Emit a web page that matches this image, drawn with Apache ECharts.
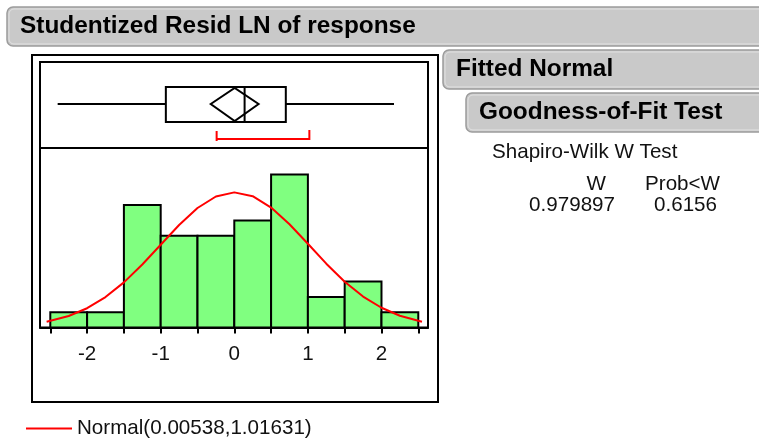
<!DOCTYPE html>
<html>
<head>
<meta charset="utf-8">
<script src="https://cdn.jsdelivr.net/npm/echarts@6/dist/echarts.min.js"></script>
<style>
  html, body { margin: 0; padding: 0; background: #fff; }
  #chart { width: 759px; height: 440px; }
</style>
</head>
<body>
<div id="chart"></div>
<script>
// histogram bins (edges) and counts
const binEdges = [-2.5, -2, -1.5, -1, -0.5, 0, 0.5, 1, 1.5, 2, 2.5];
const binCounts = [1, 1, 8, 6, 6, 7, 10, 2, 3, 1];

// fitted normal curve (in count units)
const curveX = [-2.55, -2.25, -2, -1.75, -1.5, -1.25, -1, -0.75, -0.5, -0.25, 0,
  0.25, 0.5, 0.75, 1, 1.25, 1.5, 1.75, 2, 2.25, 2.55];
const curveY = [0.38, 0.75, 1.26, 1.99, 2.95, 4.12, 5.41, 6.7, 7.81, 8.56, 8.83,
  8.58, 7.84, 6.75, 5.47, 4.17, 2.99, 2.02, 1.29, 0.77, 0.38];

// outlier box plot: min, q1, median, q3, max
const boxStats = [-2.4, -0.93, 0.14, 0.7, 2.17];
// mean diamond: lower CI, mean, upper CI
const meanDiamond = [-0.32, 0.005, 0.33];
// shortest half bracket
const shortestHalf = [-0.24, 1.02];

const xTicks = [-2.5, -2, -1.5, -1, -0.5, 0, 0.5, 1, 1.5, 2, 2.5];
const xLabels = [-2, -1, 0, 1, 2];

const fitLabel = "Normal(0.00538,1.01631)";
const testName = "Shapiro-Wilk W Test";
const testHeader = ["W", "Prob<W"];
const testValues = ["0.979897", "0.6156"];

const FONT = "'Liberation Sans', Arial, sans-serif";

const chart = echarts.init(document.getElementById("chart"));

const bars = binCounts.map((c, i) => [binEdges[i], binEdges[i + 1], c]);
const curve = curveX.map((x, i) => [x, curveY[i]]);

function header(x, y, w, h, text, tx) {
  return {
    type: "group",
    children: [
      {
        type: "rect",
        shape: { x: x, y: y, width: w, height: h, r: 6 },
        style: { fill: "#c9c9c9", stroke: "#9c9c9c", lineWidth: 1.5 },
      },
      {
        type: "rect",
        shape: { x: x + 2, y: y + 2, width: w - 4, height: h - 4, r: 5 },
        style: { fill: "none", stroke: "#e2e2e2", lineWidth: 1 },
      },
      {
        type: "text",
        style: {
          x: tx, y: y + h / 2, text: text, fill: "#000",
          font: "bold 24.4px " + FONT, textVerticalAlign: "middle",
        },
      },
    ],
  };
}

function plainText(x, y, text, align) {
  return {
    type: "text",
    style: {
      x: x, y: y, text: text, fill: "#111", font: "20.6px " + FONT,
      textAlign: align, textVerticalAlign: "middle",
    },
  };
}

const option = {
  animation: false,
  grid: [
    { left: 40, width: 388, top: 62, height: 86, show: true, borderColor: "#000", borderWidth: 2 },
    { left: 40, width: 388, top: 148, height: 179.5, show: true, borderColor: "#000", borderWidth: 2 },
  ],
  xAxis: [
    { gridIndex: 0, type: "value", min: -2.64, max: 2.632, show: false },
    {
      gridIndex: 1, type: "value", min: -2.64, max: 2.632,
      splitLine: { show: false },
      axisLine: { show: true, onZero: false, lineStyle: { color: "#000", width: 2 } },
      axisTick: { show: true, length: 6, lineStyle: { color: "#000", width: 2 }, customValues: xTicks },
      axisLabel: { customValues: xLabels, fontSize: 20.6, fontFamily: FONT, color: "#111", margin: 16 },
    },
  ],
  yAxis: [
    { gridIndex: 0, type: "value", min: 0, max: 86, inverse: true, show: false },
    { gridIndex: 1, type: "value", min: 0, max: 11.73, show: false },
  ],
  legend: {
    data: [{ name: fitLabel, icon: "rect" }],
    left: 26, top: 418, padding: 0,
    itemWidth: 46, itemHeight: 2,
    textStyle: { fontSize: 20.6, fontFamily: FONT, color: "#111" },
  },
  graphic: [
    header(7, 7, 770, 39, "Studentized Resid LN of response", 20),
    header(443, 50, 340, 39, "Fitted Normal", 456),
    header(466, 93, 320, 39, "Goodness-of-Fit Test", 479),
    plainText(492, 152.5, testName, "left"),
    plainText(606, 184, testHeader[0], "right"),
    plainText(720, 184, testHeader[1], "right"),
    plainText(615, 205.5, testValues[0], "right"),
    plainText(717, 205.5, testValues[1], "right"),
    {
      type: "rect",
      shape: { x: 32, y: 55, width: 406, height: 347 },
      style: { fill: "none", stroke: "#000", lineWidth: 2 },
    },
  ],
  series: [
    {
      type: "custom",
      xAxisIndex: 0, yAxisIndex: 0,
      data: [boxStats.concat(meanDiamond, shortestHalf)],
      renderItem: (params, api) => {
        const c = (i, y) => api.coord([api.value(i), y]);
        const seg = (i, j, y1, y2, style) => {
          const a = c(i, y1), b = c(j, y2);
          return { type: "line", shape: { x1: a[0], y1: a[1], x2: b[0], y2: b[1] }, style: style };
        };
        const line = { stroke: "#000", lineWidth: 2 };
        const red = { stroke: "#ff0000", lineWidth: 2 };
        const q1t = c(1, 25), q3b = c(3, 60);
        return {
          type: "group",
          children: [
            seg(0, 1, 42, 42, line),
            seg(3, 4, 42, 42, line),
            { type: "rect", shape: { x: q1t[0], y: q1t[1], width: q3b[0] - q1t[0], height: q3b[1] - q1t[1] }, style: { fill: "none", stroke: "#000", lineWidth: 2 } },
            seg(2, 2, 25, 60, line),
            {
              type: "polygon",
              shape: { points: [c(5, 42), c(6, 26), c(7, 42), c(6, 59)] },
              style: { fill: "none", stroke: "#000", lineWidth: 2 },
            },
            seg(8, 9, 77, 77, red),
            seg(8, 8, 69, 79, red),
            seg(9, 9, 68, 78, red),
          ],
        };
      },
    },
    {
      type: "custom",
      xAxisIndex: 1, yAxisIndex: 1,
      data: bars,
      renderItem: (params, api) => {
        const p0 = api.coord([api.value(0), 0]);
        const p1 = api.coord([api.value(1), api.value(2)]);
        return {
          type: "rect",
          shape: { x: p0[0], y: p1[1], width: p1[0] - p0[0], height: p0[1] - p1[1] },
          style: { fill: "#80ff80", stroke: "#000", lineWidth: 2 },
        };
      },
    },
    {
      type: "line",
      name: fitLabel,
      xAxisIndex: 1, yAxisIndex: 1,
      data: curve,
      symbol: "none",
      color: "#ff0000",
      lineStyle: { color: "#ff0000", width: 2 },
      z: 5,
    },
  ],
};

chart.setOption(option);
</script>
</body>
</html>
